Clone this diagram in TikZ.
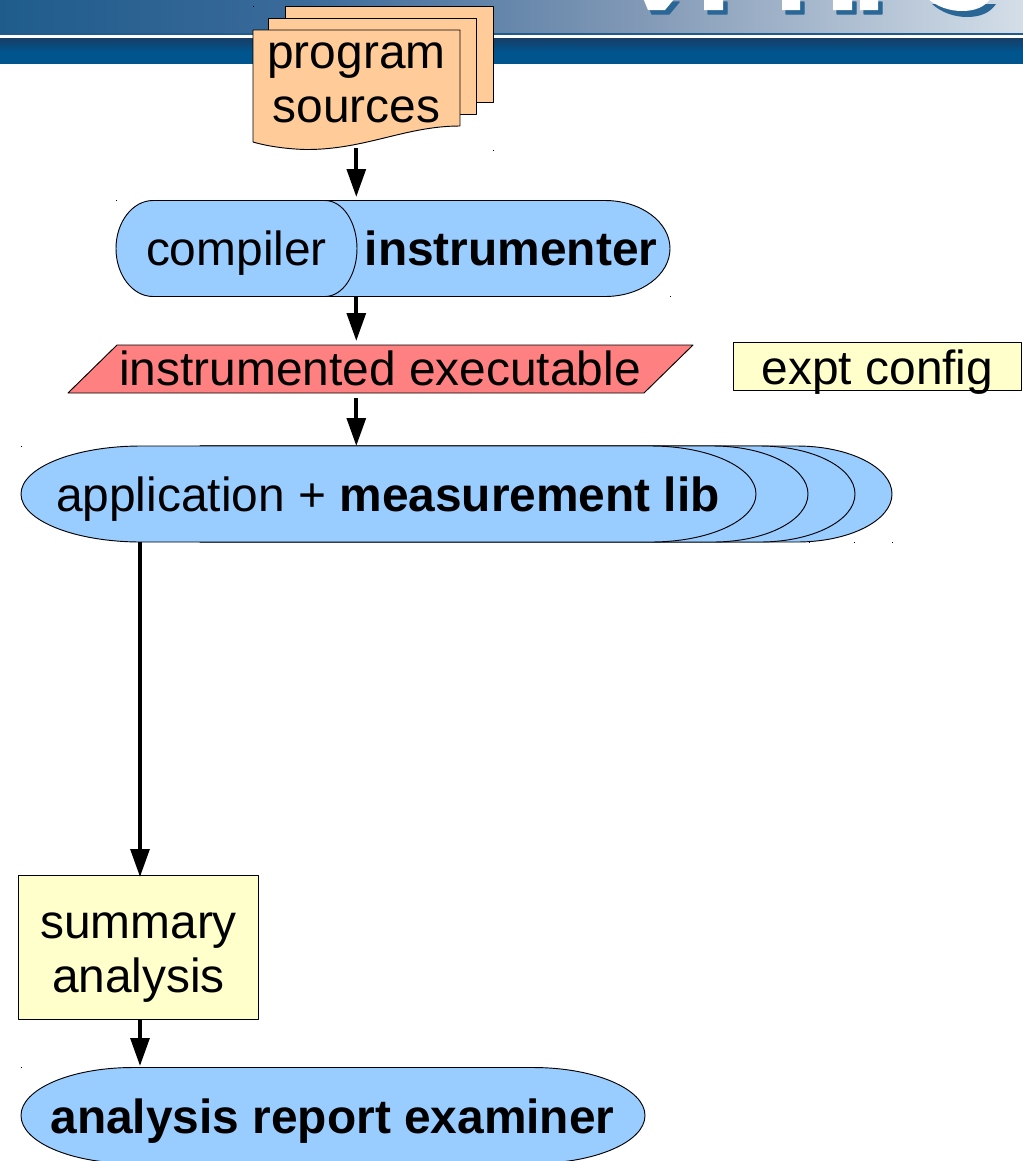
\documentclass[tikz,border=0pt]{standalone}
\usepackage{fontspec}
\setmainfont{Liberation Sans}
\usetikzlibrary{arrows.meta}
\definecolor{nodeblue}{HTML}{99CCFF}
\definecolor{srcorange}{HTML}{FFCC99}
\definecolor{paleyellow}{HTML}{FFFFCC}
\definecolor{exered}{HTML}{FF8080}
\definecolor{banA}{HTML}{1F5C8C}
\definecolor{banM}{HTML}{3A6A9A}
\definecolor{banB}{HTML}{8299B6}
\definecolor{banC}{HTML}{D3DEE8}
\definecolor{bandA}{HTML}{173E66}
\definecolor{bandB}{HTML}{00558F}
\definecolor{logoshadow}{HTML}{2A6796}
\tikzset{
 x=0.75pt,y=-0.75pt,
 shapeline/.style={draw=black,line width=0.7pt,line join=round},
 txt/.style={font=\fontsize{35.9}{40}\selectfont,text=black,inner sep=0pt,anchor=base},
 boldtxt/.style={font=\fontsize{35.9}{40}\selectfont\bfseries,text=black,inner sep=0pt,anchor=base},
 boxnode/.style={shapeline,fill=paleyellow,inner sep=0pt},
 flow/.style={draw=black,line width=3pt,-{Triangle[length=21pt,width=14pt]}},
 speck/.style={fill=black},
}
\newcommand{\logoletters}{%
 (643,-2) -- (648,10) -- (665,10) -- (675,-2) -- cycle
 (704,-2) -- (704,10) -- (723,10) -- (723,-2) -- cycle
 (782,-2) -- (782,10) -- (800,10) -- (800,-2) -- cycle
 (833,-2) -- (833,10) -- (852,10) -- (852,-2) -- cycle
 (860,-2) -- (860,10) -- (878,10) -- (878,-2) -- cycle
}
\newcommand{\logoess}{%
 (927,-2) .. controls (937,7) and (950,11) .. (962,11) .. controls (975,11) and (985,7) .. (991,-2) -- cycle
}
\begin{document}
\begin{tikzpicture}
\useasboundingbox (0,0) rectangle (1023,1161);
\begin{scope}
\clip (0,0) rectangle (1023,1161);
% banner
\shade[left color=banA,right color=banM] (0,0) rectangle (300,34);
\shade[left color=banM,right color=banB] (300,0) rectangle (640,34);
\shade[left color=banB,right color=banC] (640,0) rectangle (1023,34);
\fill[banA] (0,33) rectangle (1023,35);
\fill[white] (0,35) rectangle (1023,38);
\shade[top color=bandA,bottom color=bandB] (0,38) rectangle (1023,52);
\fill[bandB] (0,52) rectangle (1023,64);
\begin{scope}[shift={(4,4)}]
\fill[logoshadow,draw=logoshadow,line width=1pt,line join=round] \logoletters;
\end{scope}
\begin{scope}[shift={(5,6)}]
\fill[logoshadow] \logoess;
\end{scope}
\fill[white] \logoletters;
\fill[white] \logoess;
% program sources
\draw[shapeline,fill=srcorange] (285.5,6) rectangle (493.5,102);
\draw[shapeline,fill=srcorange] (268.5,18) rectangle (476.5,114);
\draw[shapeline,fill=srcorange] (253,30) -- (460,30) -- (460,126) .. controls (405,126) and (365,150) .. (305,149.5) .. controls (290,149) and (270,147) .. (253,142) -- cycle;
\node[txt] (srcA) at (356.5,68) {program};
\node[txt] (srcB) at (356.5,122) {sources};
\coordinate (srcOut) at (356.3,148);
% instrumenter + compiler
\draw[shapeline,fill=nodeblue] (320,200.5) -- (605,200.5) arc[start angle=-90,end angle=90,x radius=65,y radius=48] -- (320,296.5) -- cycle;
\draw[shapeline,fill=nodeblue] (153,200.5) -- (325,200.5) arc[start angle=-90,end angle=90,x radius=32,y radius=48] -- (153,296.5) arc[start angle=90,end angle=270,x radius=37,y radius=48] -- cycle;
\node[boldtxt] (instr) at (511,265) {instrumenter};
\node[txt] (comp) at (236.5,265) {compiler};
\coordinate (instrIn) at (356.3,197);
\coordinate (instrOut) at (356.3,296);
% executable
\draw[shapeline,fill=exered] (68,393) -- (644,393) -- (693,345) -- (117,345) -- cycle;
\node[txt] (exec) at (380,385) {instrumented executable};
\coordinate (execIn) at (356.3,341);
\coordinate (execOut) at (356.3,398);
% experiment config
\node[boxnode,minimum width=288*0.75pt,minimum height=48*0.75pt] (cfg) at (877,366) {};
\node[txt] (cfgtxt) at (877.5,384) {expt config};
% application stack
\draw[shapeline,fill=nodeblue] (200,446) -- (797,446) arc[start angle=-90,end angle=90,x radius=95,y radius=48] -- (200,542) -- cycle;
\draw[shapeline,fill=nodeblue] (200,446) -- (760,446) arc[start angle=-90,end angle=90,x radius=95,y radius=48] -- (200,542) -- cycle;
\draw[shapeline,fill=nodeblue] (200,446) -- (713,446) arc[start angle=-90,end angle=90,x radius=95,y radius=48] -- (200,542) -- cycle;
\draw[shapeline,fill=nodeblue] (141,446) -- (651,446) arc[start angle=-90,end angle=90,x radius=105,y radius=48] -- (141,542) arc[start angle=90,end angle=270,x radius=120,y radius=48] -- cycle;
\node (app) [txt] at (388,511) {application + \textbf{measurement lib}};
\coordinate (appIn) at (356.3,446);
\coordinate (appOut) at (140,542);
% summary analysis
\node[boxnode,minimum width=240*0.75pt,minimum height=143.5*0.75pt] (summ) at (138,947.5) {};
\node[txt] (sumA) at (138.5,938) {summary};
\node[txt] (sumB) at (138.5,992) {analysis};
\coordinate (summIn) at (140,877);
\coordinate (summOut) at (140,1019);
% examiner
\draw[shapeline,fill=nodeblue] (133,1067.5) -- (533,1067.5) arc[start angle=-90,end angle=90,x radius=112,y radius=48] -- (133,1163.5) arc[start angle=90,end angle=270,x radius=112,y radius=48] -- cycle;
\node[boldtxt] (exam) at (332.5,1133) {analysis report examiner};
\coordinate (examIn) at (140,1066);
% connectors
\draw[flow] (srcOut) -- (instrIn);
\draw[flow] (instrOut) -- (execIn);
\draw[flow] (execOut) -- (appIn);
\draw[flow] (appOut) -- (summIn);
\draw[flow] (summOut) -- (examIn);
% small specks of the reference
\foreach \px/\py in {253/6,493/150,116/200,670/296,21/446,809/542,854/542,892/542,21/1067}
 \fill[speck] (\px,\py) rectangle ++(1,1);
\end{scope}
\end{tikzpicture}
\end{document}
